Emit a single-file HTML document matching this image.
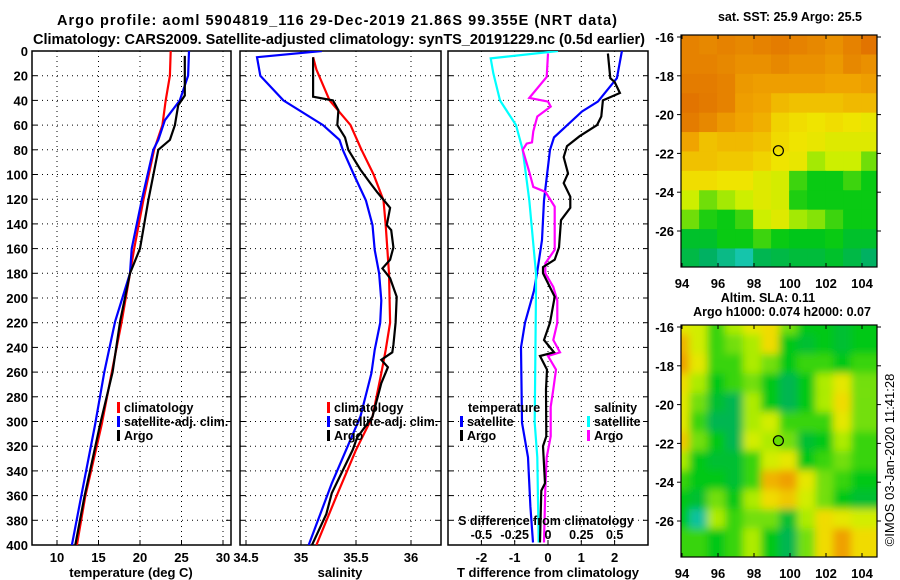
<!DOCTYPE html>
<html><head><meta charset="utf-8"><style>
body{margin:0;background:#fff;}
svg{display:block;font-family:"Liberation Sans",sans-serif;font-weight:bold;}
</style></head><body>
<svg id="chart" width="900" height="580" viewBox="0 0 900 580">
<text x="57" y="25" font-size="14.5" textLength="560" lengthAdjust="spacing">Argo profile: aoml 5904819_116 29-Dec-2019 21.86S 99.355E (NRT data)</text>
<text x="33" y="44" font-size="14.5" textLength="612" lengthAdjust="spacing">Climatology: CARS2009. Satellite-adjusted climatology: synTS_20191229.nc (0.5d earlier)</text>
<defs>
<clipPath id="c1"><rect x="32" y="51" width="199" height="494"/></clipPath>
<clipPath id="c2"><rect x="240" y="51" width="201" height="494"/></clipPath>
<clipPath id="c3"><rect x="448" y="51" width="200" height="494"/></clipPath>
<clipPath id="m1"><rect x="681" y="35" width="196" height="232"/></clipPath>
<clipPath id="m2"><rect x="681" y="325" width="196" height="232"/></clipPath>
<filter id="bl" x="-5%" y="-5%" width="110%" height="110%"><feGaussianBlur stdDeviation="4"/></filter>
</defs>
<g id="g"></g>
</svg>
<script>
// ---- data ----
const depthTicks=[0,20,40,60,80,100,120,140,160,180,200,220,240,260,280,300,320,340,360,380,400];
const tempClimD=[0,20,40,60,80,121,160,180,219,260,302,361,400];
const tempClimV=[23.7,23.6,23.1,22.7,21.7,20.4,19.3,18.8,17.8,16.6,15.4,13.4,12.4];
const tempSatD=[0,20,40,56,72,80,121,160,180,219,260,302,361,400];
const tempSatV=[25.9,25.8,24.8,23.0,22.2,21.6,20.2,19.0,18.8,17.0,15.7,14.6,12.9,11.8];
const tempArgoD=[4,36,44,60,72,80,121,160,180,219,260,302,361,400];
const tempArgoV=[25.4,25.4,24.6,24.2,23.6,22.2,21.0,20.0,18.8,17.6,16.7,15.2,13.3,12.2];
const salClimD=[5,15,40,60,80,100,121,141,180,220,242,261,296,323,361,400];
const salClimV=[35.11,35.14,35.26,35.45,35.55,35.66,35.75,35.77,35.80,35.81,35.77,35.73,35.65,35.5,35.32,35.14];
const salSatD=[0,5,20,40,60,72,80,100,121,141,161,180,202,220,242,261,296,323,350,400];
const salSatV=[35.19,34.6,34.63,34.84,35.2,35.35,35.38,35.48,35.59,35.65,35.67,35.71,35.73,35.72,35.67,35.64,35.54,35.41,35.28,35.07];
const salArgoD=[5,37,40,48,60,70,80,96,107,114,127,141,145,159,169,176,184,199,220,238,244,250,256,269,296,313,323,358,375,400];
const salArgoV=[35.11,35.11,35.29,35.34,35.33,35.40,35.43,35.54,35.63,35.69,35.81,35.78,35.82,35.84,35.81,35.74,35.81,35.87,35.86,35.84,35.83,35.73,35.79,35.73,35.65,35.51,35.47,35.28,35.23,35.1];
const dSatTD=[0,22,41,49,70,80,121,153,180,194,220,240,301,329,369,398];
const dSatTV=[2.22,2.07,1.5,1.02,0.18,0.06,-0.12,-0.18,-0.33,-0.42,-0.69,-0.81,-0.78,-0.6,-0.53,-0.45];
const dArgoTD=[2,22,25,34,40,53,60,69,77,86,99,107,118,127,137,159,169,175,180,188,199,220,234,244,247,258,274,312,320,350,356,398];
const dArgoTV=[1.8,1.87,2.0,2.16,1.65,1.6,1.47,0.95,0.57,0.47,0.6,0.47,0.67,0.67,0.39,0.33,0.2,-0.15,-0.15,0.0,0.2,0.06,-0.12,0.18,-0.24,-0.03,-0.06,-0.05,-0.15,-0.09,-0.2,-0.24];
const dSatSD=[0,6,18,40,60,80,121,180,194,301,329,398];
const dSatSV=[0.075,-0.43,-0.41,-0.36,-0.24,-0.19,-0.14,-0.09,-0.09,-0.1,-0.08,-0.07];
const dArgoSD=[2,21,38,41,45,53,65,74,75,80,98,110,114,126,147,161,172,180,191,202,220,234,244,247,258,274,288,312,329,355,398];
const dArgoSV=[0,-0.01,-0.14,0.0,0.02,-0.08,-0.11,-0.12,-0.16,-0.19,-0.14,-0.11,-0.02,0.05,0.05,0.05,-0.02,-0.02,0.04,0.07,0.07,0.04,0.09,0.0,0.06,0.04,0.02,0.02,-0.01,-0.02,-0.03];
const tempTicks=[10,15,20,25,30];
const salTicks=[34.5,35,35.5,36];
const salTickLabels=["34.5","35","35.5","36"];
const tdTicks=[-2,-1,0,1,2];
const sdTicks=[-0.5,-0.25,0,0.25,0.5];
const sdTickLabels=["-0.5","-0.25","0","0.25","0.5"];
const lonTicks=[94,96,98,100,102,104];
const latTicks=[-16,-18,-20,-22,-24,-26];
const sstGrid=[
[0.9,0.88,0.9,0.88,0.9,0.92,0.9,0.88,0.85,0.9,0.95],
[0.9,0.9,0.88,0.85,0.85,0.88,0.85,0.85,0.82,0.88,0.85],
[0.92,0.92,0.9,0.82,0.8,0.8,0.8,0.8,0.78,0.78,0.8],
[0.95,0.93,0.9,0.8,0.78,0.72,0.7,0.7,0.7,0.72,0.72],
[0.92,0.88,0.82,0.78,0.75,0.65,0.62,0.6,0.62,0.6,0.58],
[0.78,0.7,0.72,0.72,0.7,0.63,0.6,0.58,0.55,0.55,0.55],
[0.7,0.7,0.68,0.68,0.65,0.6,0.58,0.45,0.5,0.5,0.4],
[0.62,0.62,0.6,0.6,0.55,0.52,0.35,0.3,0.3,0.35,0.3],
[0.5,0.4,0.45,0.5,0.55,0.52,0.32,0.3,0.3,0.3,0.3],
[0.4,0.32,0.3,0.35,0.5,0.55,0.45,0.42,0.35,0.3,0.3],
[0.25,0.25,0.3,0.3,0.35,0.3,0.28,0.28,0.3,0.25,0.25],
[0.2,0.15,0.1,0.05,0.18,0.2,0.22,0.22,0.25,0.2,0.15]];
const slaGrid=[
[0.55,0.5,0.35,0.45,0.55,0.6,0.4,0.3,0.3,0.25,0.3],
[0.7,0.5,0.35,0.4,0.45,0.6,0.3,0.25,0.3,0.25,0.3],
[0.75,0.55,0.35,0.35,0.45,0.4,0.3,0.35,0.35,0.3,0.35],
[0.6,0.45,0.3,0.35,0.4,0.3,0.2,0.3,0.45,0.55,0.4],
[0.55,0.4,0.25,0.2,0.45,0.3,0.2,0.3,0.45,0.6,0.4],
[0.55,0.35,0.2,0.2,0.45,0.5,0.35,0.35,0.35,0.55,0.4],
[0.65,0.4,0.3,0.2,0.5,0.45,0.4,0.25,0.3,0.45,0.35],
[0.45,0.3,0.25,0.25,0.35,0.5,0.55,0.3,0.35,0.4,0.35],
[0.35,0.3,0.3,0.25,0.35,0.7,0.75,0.55,0.4,0.35,0.3],
[0.3,0.25,0.4,0.3,0.45,0.6,0.65,0.5,0.4,0.3,0.25],
[0.3,0.1,0.45,0.35,0.4,0.4,0.25,0.45,0.6,0.55,0.5],
[0.35,0.35,0.3,0.35,0.45,0.3,0.2,0.4,0.6,0.75,0.6]];
const argoLon=[99.355];
const argoLat=[-21.86];

// ---- drawing ----
const NS='http://www.w3.org/2000/svg';
const root=document.getElementById('g');
function el(tag,attrs,parent){const e=document.createElementNS(NS,tag);for(const k in attrs)e.setAttribute(k,attrs[k]);(parent||root).appendChild(e);return e;}
const Y0=51,Y1=545;
function yD(d){return Y0+(d/400)*(Y1-Y0);}
function lin(d0,d1,p0,p1){return v=>p0+(v-d0)/(d1-d0)*(p1-p0);}
const xT=lin(10,30,57,223), xS=lin(35,36,301,411), xTD=lin(0,1,548,581.3), xSD=lin(0,1,548,681.3);

function panel(x0,x1,gridX,name){
  const g=el('g',{});
  
  
  gridX.forEach(x=>{const l=el('line',{x1:x,x2:x,y1:Y0,y2:Y1,stroke:'#000','stroke-width':1,'stroke-dasharray':'1,4'},g);
    
    });
  depthTicks.forEach(d=>{const y=yD(d);
    if(d>0&&d<400){const l=el('line',{x1:x0,x2:x1,y1:y,y2:y,stroke:'#000','stroke-width':1,'stroke-dasharray':'1,4'},g);
    
    
    el('line',{x1:x0,x2:x0+5,y1:y,y2:y,stroke:'#000'},g);el('line',{x1:x1-5,x2:x1,y1:y,y2:y,stroke:'#000'},g);}});
  gridX.forEach(x=>{el('line',{x1:x,x2:x,y1:Y1,y2:Y1-5,stroke:'#000'},g);});
  const r=el('rect',{x:x0,y:Y0,width:x1-x0,height:Y1-Y0,fill:'none',stroke:'#000','stroke-width':1.5},g);
  
  
  return g;
}
function series(D,V,fx,color,clip,name,w){
  const pts=D.map((d,i)=>fx(V[i]).toFixed(1)+','+yD(d).toFixed(1)).join(' ');
  const p=el('polyline',{points:pts,fill:'none',stroke:color,'stroke-width':w||2.2,'clip-path':'url(#'+clip+')'});
  
  
}
function txt(x,y,s,size,anchor,name,fill){
  const t=el('text',{x:x,y:y,'font-size':size,'text-anchor':anchor||'start',fill:fill||'#000'});
  t.textContent=s;
  
  
  return t;
}
function legendEntry(x,y,color,label,name){
  const m=el('rect',{x:x,y:y-10,width:3,height:11,fill:color});
  
  
  txt(x+7,y,label,12.5,'start',name);
}

// Panel 1: temperature
panel(32,231,tempTicks.map(xT),'temperature-panel');
depthTicks.forEach(d=>txt(28,yD(d)+5,String(d),13,'end','depth-tick-label'));
tempTicks.forEach(v=>txt(xT(v),562,String(v),13,'middle','temperature-tick-label'));
txt(131,577,'temperature (deg C)',13,'middle','temperature-axis-title');
series(tempClimD,tempClimV,xT,'#ff0000','c1','temp-climatology-line');
series(tempSatD,tempSatV,xT,'#0000ff','c1','temp-satellite-line');
series(tempArgoD,tempArgoV,xT,'#000000','c1','temp-argo-line');
legendEntry(117,412,'#ff0000','climatology','legend-climatology');
legendEntry(117,426,'#0000ff','satellite-adj. clim.','legend-satellite');
legendEntry(117,440,'#000000','Argo','legend-argo');

// Panel 2: salinity
panel(240,441,salTicks.map(xS),'salinity-panel');
salTicks.forEach((v,i)=>txt(xS(v),562,salTickLabels[i],13,'middle','salinity-tick-label'));
txt(340,577,'salinity',13,'middle','salinity-axis-title');
series(salClimD,salClimV,xS,'#ff0000','c2','sal-climatology-line');
series(salSatD,salSatV,xS,'#0000ff','c2','sal-satellite-line');
series(salArgoD,salArgoV,xS,'#000000','c2','sal-argo-line');
legendEntry(327,412,'#ff0000','climatology','legend-climatology');
legendEntry(327,426,'#0000ff','satellite-adj. clim.','legend-satellite');
legendEntry(327,440,'#000000','Argo','legend-argo');

// Panel 3: differences
panel(448,648,tdTicks.map(xTD),'difference-panel');
tdTicks.forEach(v=>txt(xTD(v),562,String(v),13,'middle','t-diff-tick-label'));
txt(548,577,'T difference from climatology',13,'middle','t-diff-axis-title');
series(dSatTD,dSatTV,xTD,'#0000ff','c3','t-diff-satellite-line');
series(dSatSD,dSatSV,xSD,'#00ffff','c3','s-diff-satellite-line');
series(dArgoSD,dArgoSV,xSD,'#ff00ff','c3','s-diff-argo-line');
series(dArgoTD,dArgoTV,xTD,'#000000','c3','t-diff-argo-line');
txt(468,412,'temperature',12.5,'start','legend-temperature-heading');
legendEntry(460,426,'#0000ff','satellite','legend-t-satellite');
legendEntry(460,440,'#000000','Argo','legend-t-argo');
txt(594,412,'salinity',12.5,'start','legend-salinity-heading');
legendEntry(587,426,'#00ffff','satellite','legend-s-satellite');
legendEntry(587,440,'#ff00ff','Argo','legend-s-argo');
txt(546,525,'S difference from climatology',12.5,'middle','s-diff-axis-title');
sdTicks.forEach((v,i)=>txt(xSD(v),539,sdTickLabels[i],12.5,'middle','s-diff-tick-label'));

// Maps
function cmap(v){
  const st=[[0,[32,208,208]],[0.15,[0,176,100]],[0.3,[0,200,20]],[0.5,[200,240,0]],[0.62,[240,228,0]],[0.8,[240,165,0]],[1,[224,110,0]]];
  for(let i=1;i<st.length;i++){if(v<=st[i][0]){const a=st[i-1],b=st[i],t=(v-a[0])/(b[0]-a[0]);
    return 'rgb('+a[1].map((c,j)=>Math.round(c+(b[1][j]-c)*t)).join(',')+')';}}
  return 'rgb(224,110,0)';
}
const xLon=lin(94,104,682,862);
function map(top,grid,clip,name,blur,slaCm){
  const yLat=lin(-16,-26,top+2,top+196);
  const g=el('g',{'clip-path':'url(#'+clip+')'});
  
  
  const inner=el('g',blur?{filter:'url(#bl)'}:{},g);
  grid.forEach((row,r)=>row.forEach((v,c)=>{
    const x0=xLon(93.95+c),y0=yLat(-15.9-r);
    const cv=slaCm?Math.max(0,Math.min(1,(v-0.3)*1.15+0.3)):Math.min(1,v*1.03);
    const cell=el('rect',{x:x0-(blur?10:0),y:y0-(blur?10:0),width:xLon(94.95+c)-x0+1+(blur?20:0),height:yLat(-16.9-r)-y0+1+(blur?20:0),fill:cmap(cv)},inner);
    
    
  }));
  const fr=el('rect',{x:681,y:top,width:196,height:232,fill:'none',stroke:'#000','stroke-width':1.2});
  
  
  lonTicks.forEach(v=>{const x=xLon(v);el('line',{x1:x,x2:x,y1:top,y2:top+4,stroke:'#000'});el('line',{x1:x,x2:x,y1:top+232,y2:top+228,stroke:'#000'});
    txt(x,top+253,String(v),13,'middle','lon-tick-label');});
  latTicks.forEach(v=>{const y=yLat(v);el('line',{x1:677,x2:681,y1:y,y2:y,stroke:'#000'});el('line',{x1:877,x2:881,y1:y,y2:y,stroke:'#000'});
    txt(674,y+5,String(v),13,'end','lat-tick-label');});
  const m=el('circle',{cx:xLon(argoLon[0]),cy:yLat(argoLat[0]),r:5,fill:slaCm?'#66dd00':'none',stroke:'#000','stroke-width':1.2});
  
  
}
map(35,sstGrid,'m1','sst-map',false,false);
txt(790,21,'sat. SST: 25.9 Argo: 25.5',12.5,'middle','sst-map-title');
map(325,slaGrid,'m2','sla-map',true,true);
txt(768,302,'Altim. SLA: 0.11',12.5,'middle','sla-map-title');
txt(782,316,'Argo h1000: 0.074 h2000: 0.07',12.5,'middle','sla-map-subtitle');
const cr=txt(0,0,'©IMOS 03-Jan-2020 11:41:28',13,'middle','timestamp-credit');
cr.setAttribute('font-weight','normal');
cr.setAttribute('transform','translate(894,460) rotate(-90)');
</script>
</body></html>
